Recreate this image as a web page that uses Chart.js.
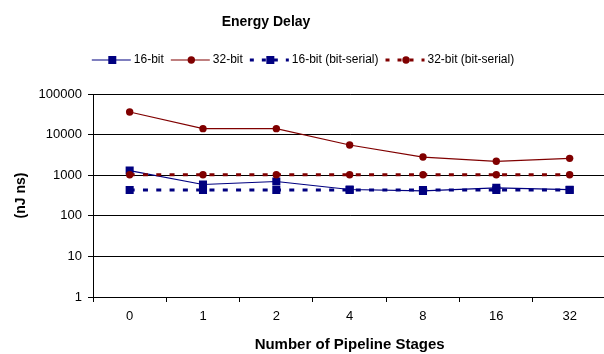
<!DOCTYPE html>
<html>
<head>
<meta charset="utf-8">
<script src="https://cdn.jsdelivr.net/npm/chart.js@4/dist/chart.umd.min.js"></script>
<style>
  html, body { margin: 0; padding: 0; background: #fff; overflow: hidden; }
  #wrap { width: 612px; height: 354px; }
</style>
</head>
<body>
<div id="wrap"><canvas id="c" width="612" height="354"></canvas></div>
<script>
const categories = ['0', '1', '2', '4', '8', '16', '32'];
const bit16 = [1300, 590, 700, 445, 410, 490, 440];
const bit32 = [36000, 14000, 14000, 5550, 2800, 2200, 2600];
const bit16Serial = [430, 430, 430, 430, 430, 430, 430];
const bit32Serial = [1030, 1030, 1030, 1030, 1030, 1030, 1030];
const yTicks = [1, 10, 100, 1000, 10000, 100000];
const seriesNames = ['16-bit', '32-bit', '16-bit (bit-serial)', '32-bit (bit-serial)'];

const FONT = "'Liberation Sans', Arial, sans-serif";
const NAVY = '#000080';
const MAROON = '#800000';

const seriesStyles = [
  { color: NAVY, point: 'rect', radius: 5.7, width: 1.2, dash: [] },
  { color: MAROON, point: 'circle', radius: 3.7, width: 1.2, dash: [] },
  { color: NAVY, point: 'rect', radius: 5.7, width: 3, dash: [5, 8.3] },
  { color: MAROON, point: 'circle', radius: 3.7, width: 3, dash: [5, 8.3] }
];
const seriesData = [bit16, bit32, bit16Serial, bit32Serial];

const datasets = seriesNames.map((name, i) => ({
  label: name,
  data: seriesData[i],
  borderColor: seriesStyles[i].color,
  backgroundColor: seriesStyles[i].color,
  borderWidth: seriesStyles[i].width,
  borderDash: seriesStyles[i].dash,
  borderCapStyle: 'butt',
  pointStyle: seriesStyles[i].point,
  pointRadius: seriesStyles[i].radius,
  pointBorderWidth: 0,
  pointBackgroundColor: seriesStyles[i].color,
  tension: 0,
  order: 3 - i
}));

const headerPlugin = {
  id: 'header',
  afterDraw(chart) {
    const ctx = chart.ctx;
    ctx.save();
    ctx.fillStyle = '#000';
    ctx.textBaseline = 'middle';
    ctx.textAlign = 'center';
    ctx.font = "bold 14px " + FONT;
    ctx.fillText('Energy Delay', 266, 22);

    // legend
    ctx.font = "12px " + FONT;
    const lineLen = 39, gapText = 3, gapItem = 7;
    const widths = seriesNames.map(n => ctx.measureText(n).width);
    let total = 0;
    widths.forEach(w => total += lineLen + gapText + w);
    total += gapItem * (seriesNames.length - 1);
    let x = 303 - total / 2;
    const y = 60;
    ctx.textAlign = 'left';
    seriesNames.forEach((n, i) => {
      const s = seriesStyles[i];
      ctx.save();
      ctx.strokeStyle = s.color;
      ctx.lineWidth = s.width;
      ctx.setLineDash(s.dash.length ? [4, 8] : []);
      ctx.lineCap = 'butt';
      ctx.beginPath();
      ctx.moveTo(x, y);
      ctx.lineTo(x + lineLen, y);
      ctx.stroke();
      ctx.restore();
      const mx = x + lineLen / 2 + 1;
      ctx.fillStyle = s.color;
      if (s.point === 'rect') {
        ctx.fillRect(mx - 4, y - 4, 8, 8);
      } else {
        ctx.beginPath();
        ctx.arc(mx, y, 3.7, 0, Math.PI * 2);
        ctx.fill();
      }
      ctx.fillStyle = '#000';
      ctx.fillText(n, x + lineLen + gapText, y);
      x += lineLen + gapText + widths[i] + gapItem;
    });
    ctx.restore();
  }
};

new Chart(document.getElementById('c'), {
  type: 'line',
  data: { labels: categories, datasets },
  plugins: [headerPlugin],
  options: {
    responsive: false,
    animation: false,
    devicePixelRatio: 1,
    layout: { padding: { top: 94, right: 3, left: 0, bottom: 0 } },
    plugins: { legend: { display: false }, tooltip: { enabled: false }, title: { display: false } },
    scales: {
      x: {
        type: 'category',
        offset: true,
        grid: { offset: true, drawOnChartArea: false, drawTicks: true, tickLength: 5, color: '#000', lineWidth: 1 },
        border: { color: '#000', width: 1 },
        ticks: { color: '#000', font: { family: FONT, size: 13 }, padding: 7, maxRotation: 0, autoSkip: false },
        title: { display: true, text: 'Number of Pipeline Stages', color: '#000', font: { family: FONT, size: 15, weight: 'bold' }, padding: { top: 0, bottom: 0 } },
        afterFit(scale) { scale.height = 57; }
      },
      y: {
        type: 'logarithmic',
        min: 1,
        max: 100000,
        afterBuildTicks(scale) { scale.ticks = yTicks.map(v => ({ value: v })); },
        grid: { color: '#000', lineWidth: 1, drawTicks: true, tickLength: 5 },
        border: { color: '#000', width: 1 },
        ticks: { color: '#000', font: { family: FONT, size: 13 }, padding: 6, callback: v => String(v) },
        title: { display: true, text: '(nJ ns)', color: '#000', font: { family: FONT, size: 14, weight: 'bold' }, padding: { top: 12.5, bottom: 0 } },
        afterFit(scale) { scale.width = 93; }
      }
    }
  }
});
</script>
</body>
</html>
